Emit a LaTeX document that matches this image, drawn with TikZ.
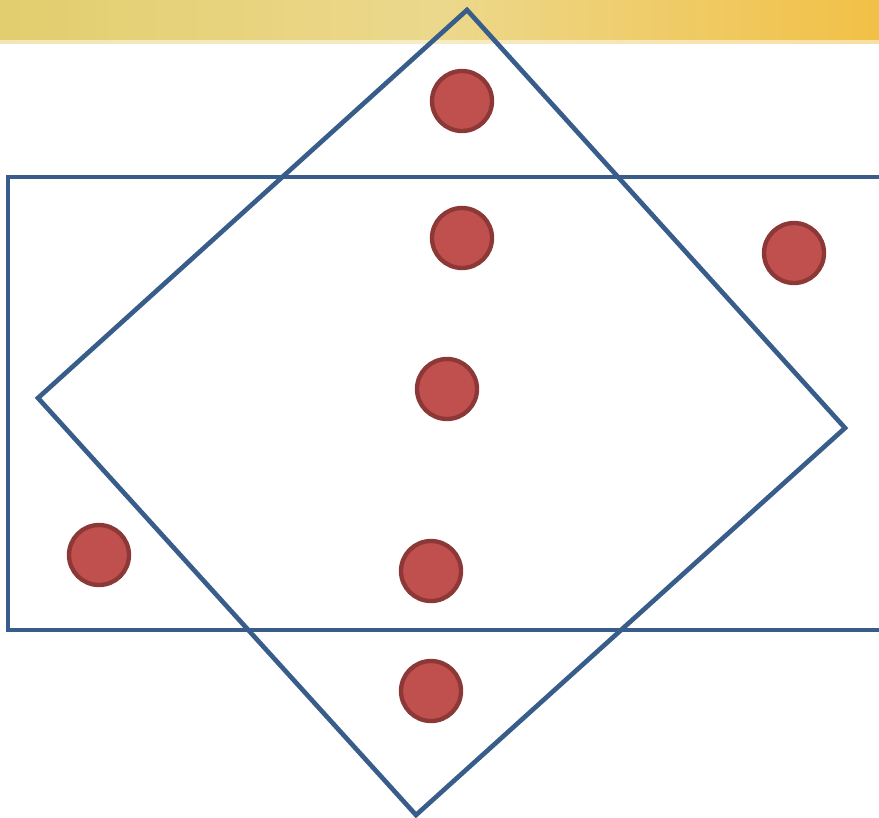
\documentclass[tikz,border=0pt]{standalone}
\usepackage{tikz}
\definecolor{lineblue}{RGB}{56, 93, 138}
\definecolor{dotred}{RGB}{192, 80, 77}
\definecolor{dotrim}{RGB}{140, 56, 54}
\definecolor{bandleft}{RGB}{226, 206, 110}
\definecolor{bandmid}{RGB}{236, 216, 140}
\definecolor{bandright}{RGB}{242, 192, 70}

\begin{document}
\begin{tikzpicture}[x=0.03cm, y=-0.03cm,
  dot/.style={circle, draw=dotrim, fill=dotred, line width=1.3mm,
              minimum size=1.8cm, inner sep=0pt},
  frame/.style={draw=lineblue, line width=1.4mm, line join=miter}
]
\useasboundingbox (0,0) rectangle (879,817);

% top band
\shade[left color=bandleft, right color=bandright, middle color=bandmid]
  (0,0) rectangle (879,44);
\fill[white, opacity=0.5] (0,40) rectangle (879,47);

% rectangle and tilted square
\draw[frame] (890,177) -- (8,177) -- (8,630) -- (890,630);
\draw[frame] (467,10) -- (845,428) -- (416,815) -- (38,398) -- cycle;

% dots
\node[dot] (d1) at (462,101) {};
\node[dot] (d2) at (462,238) {};
\node[dot] (d3) at (794,253) {};
\node[dot] (d4) at (447,389) {};
\node[dot] (d5) at (99,555) {};
\node[dot] (d6) at (431,571) {};
\node[dot] (d7) at (431,691) {};
\end{tikzpicture}
\end{document}
